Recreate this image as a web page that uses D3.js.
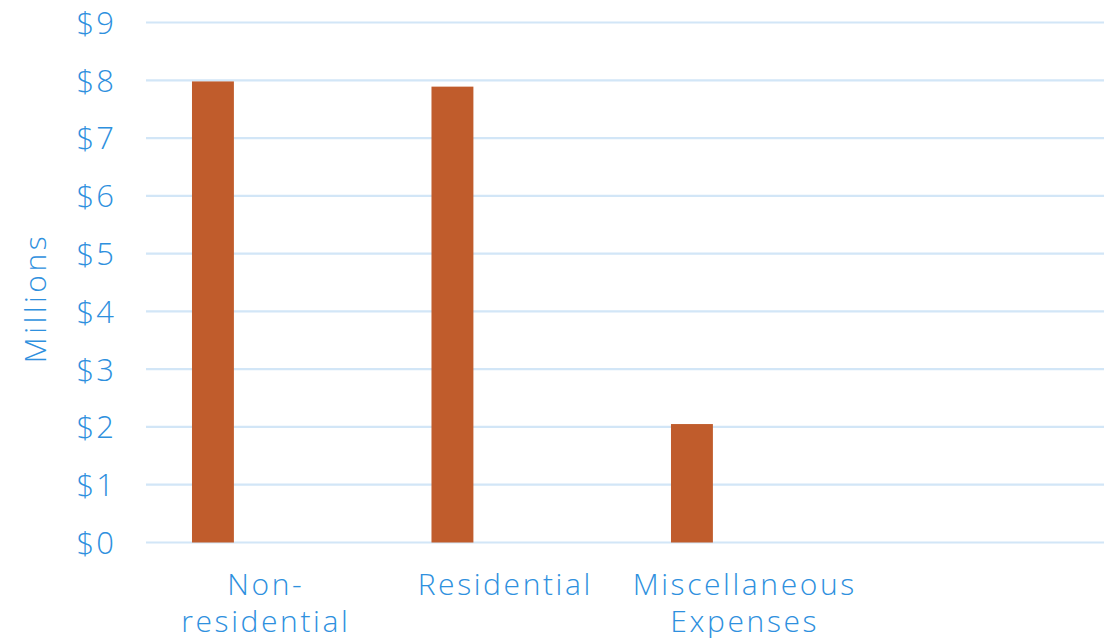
<!DOCTYPE html>
<html><head><meta charset="utf-8">
<script src="https://cdn.jsdelivr.net/npm/d3@7"></script>
<style>
body{margin:0;background:#fff;}
text{font-family:"Open Sans",sans-serif;font-weight:300;fill:#2e90de;}
</style></head>
<body><svg id="chart" width="1117" height="638"></svg>
<script>
const categories = [["Non-","residential"],["Residential"],["Miscellaneous","Expenses"],[""]];
const values = [7.98, 7.89, 2.05, null];
const yTicks = [0,1,2,3,4,5,6,7,8,9];
const yTitle = "Millions";

(function(){
const svg = d3.select("#chart");
const mLeft = 146, mRight = 1104, mTop = 22.5, mBottom = 542.5;
const keys = categories.map((c,i)=>i);
const x = d3.scaleBand().domain(keys).range([mLeft,mRight]).padding(0);
const y = d3.scaleLinear().domain([0,9]).range([mBottom,mTop]);

svg.append("g").selectAll("line").data(yTicks).join("line")
  .attr("x1",mLeft).attr("x2",mRight)
  .attr("y1",d=>y(d)).attr("y2",d=>y(d))
  .attr("stroke","#d2e6f7").attr("stroke-width",2.2);

const yAxis = d3.axisLeft(y).tickValues(yTicks).tickFormat(d=>"$"+d).tickSize(0).tickPadding(30);
const ga = svg.append("g").attr("transform",`translate(${mLeft},0)`).call(yAxis);
ga.select(".domain").remove();
ga.attr("font-family",null).attr("font-size",null);
ga.selectAll("text").style("font-size","31px").style("letter-spacing","2px").attr("dy","0.35em");

const bw = x.bandwidth();
svg.append("g").selectAll("rect").data(values.map((v,i)=>({v,i})).filter(d=>d.v!=null)).join("rect")
  .attr("x",d=>x(d.i)+bw*0.192).attr("width",bw*0.175)
  .attr("y",d=>y(d.v)).attr("height",d=>y(0)-y(d.v))
  .attr("fill","#c05c2c");

const gl = svg.append("g");
categories.forEach((lines,i)=>{
  const t = gl.append("text").attr("text-anchor","middle").style("font-size","30px")
    .style("letter-spacing","2.6px")
    .attr("x",x(i)+bw/2).attr("y",595);
  lines.forEach((l,j)=>t.append("tspan").attr("x",x(i)+bw/2).attr("dy",j?37:0).text(l));
});

svg.append("text").attr("transform","translate(46,298) rotate(-90)")
  .attr("text-anchor","middle").style("font-size","30px").style("letter-spacing","3.5px").text(yTitle);
})();
</script></body></html>
